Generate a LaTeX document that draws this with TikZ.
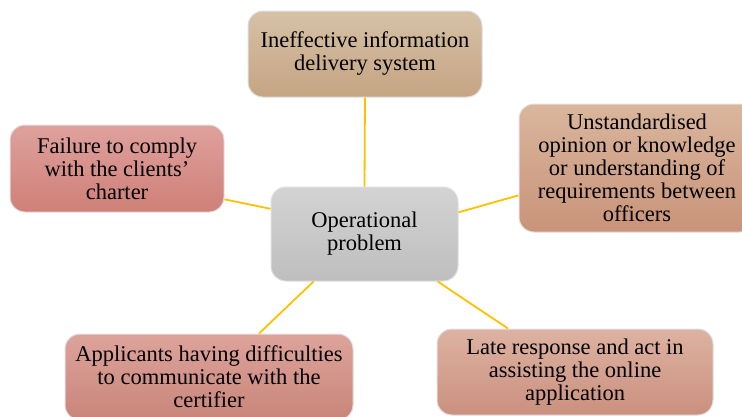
\documentclass[tikz,border=0pt]{standalone}
\usepackage{fontspec}
\setmainfont{Liberation Serif}
\definecolor{gold}{HTML}{FFC000}
\definecolor{tanT}{HTML}{D6C1A6}
\definecolor{tanB}{HTML}{C5A483}
\definecolor{orT}{HTML}{D9B69D}
\definecolor{orB}{HTML}{C99379}
\definecolor{rdT}{HTML}{DFA19D}
\definecolor{rdB}{HTML}{CF7F78}
\definecolor{gyT}{HTML}{D3D3D3}
\definecolor{gyB}{HTML}{BEBEBE}
\definecolor{blT}{HTML}{DDA39B}
\definecolor{blB}{HTML}{C9857A}
\definecolor{brT}{HTML}{DDB2A2}
\definecolor{brB}{HTML}{CB907E}
\tikzset{
  box/.style={rounded corners=15pt, align=center, inner sep=0pt,
    font=\fontsize{22.5}{23}\selectfont, text=black,
    draw=white!75!gray, line width=1pt},
  link/.style={draw=gold, line width=1.8pt}
}
\begin{document}
\begin{tikzpicture}[x=1pt,y=-1pt]
\useasboundingbox (0,0) rectangle (742,416);
\clip (0,0) rectangle (742,416);
\node[box, top color=tanT, bottom color=tanB, minimum width=234pt, minimum height=86pt] (top) at (365,54) {Ineffective information\\delivery system};
\node[box, top color=orT, bottom color=orB, minimum width=236pt, minimum height=128pt] (right) at (637,168) {Unstandardised\\opinion or knowledge\\or understanding of\\requirements between\\officers};
\node[box, top color=rdT, bottom color=rdB, minimum width=214pt, minimum height=87pt] (left) at (117,168.5) {Failure to comply\\with the clients'\\charter};
\node[box, top color=gyT, bottom color=gyB, minimum width=187pt, minimum height=94pt] (c) at (364.5,234) {Operational\\problem};
\node[box, top color=blT, bottom color=blB, minimum width=288pt, minimum height=86pt] (bl) at (209,377) {Applicants having difficulties\\to communicate with the\\certifier};
\node[box, top color=brT, bottom color=brB, minimum width=276pt, minimum height=86pt] (br) at (575,372) {Late response and act in\\assisting the online\\application};
\draw[link] (top.south) -- (c.north);
\draw[link] (left.344.6) -- (c.165.6);
\draw[link] (c.13.8) -- (right.193.3);
\draw[link] (c.223.5) -- (bl.41.9);
\draw[link] (c.-33) -- (br.147.3);
\end{tikzpicture}
\end{document}
